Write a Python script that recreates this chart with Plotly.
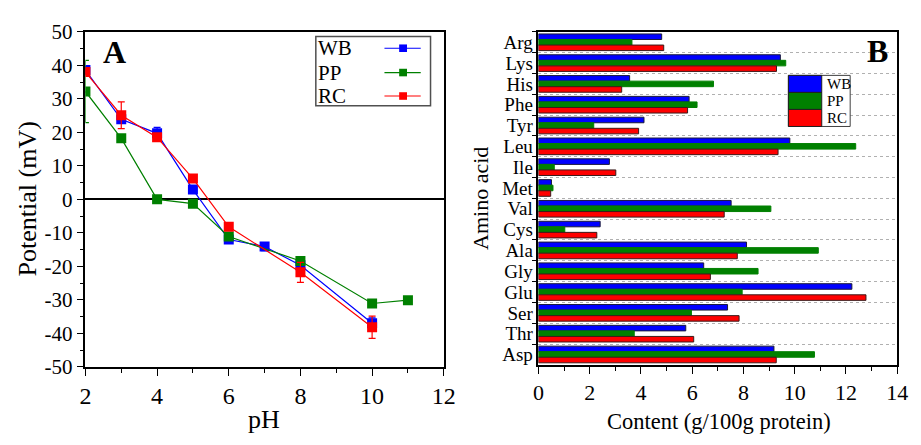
import plotly.graph_objects as go

# ---- Panel A: zeta potential vs pH ----
ph_wb = [2, 3, 4, 5, 6, 7, 8, 10]
zeta_wb = [38.6, 23.9, 19.7, 2.9, -12.0, -14.1, -19.7, -37.0]
err_wb = [1.0, 1.0, 1.8, 0.6, 0.8, 1.2, 1.5, 1.6]

ph_pp = [2, 3, 4, 5, 6, 8, 10, 11]
zeta_pp = [32.2, 18.2, 0.0, -1.3, -11.1, -18.4, -31.1, -30.1]
err_pp = [9.3, 0.5, 0.5, 0.5, 0.5, 0.6, 0.5, 0.5]

ph_rc = [2, 3, 4, 5, 6, 8, 10]
zeta_rc = [38.0, 25.1, 18.5, 6.2, -8.2, -21.8, -38.2]
err_rc = [0.8, 4.0, 0.8, 0.5, 0.6, 3.0, 3.3]

potential_ticks = [50, 40, 30, 20, 10, 0, -10, -20, -30, -40, -50]
potential_labels = ["50", "40", "30", "20", "10", "0",
                    "-10", "-20", "-30", "-40", "-50"]

# ---- Panel B: amino acid composition (g/100g protein) ----
amino_acids = ["Arg", "Lys", "His", "Phe", "Tyr", "Leu", "Ile", "Met",
               "Val", "Cys", "Ala", "Gly", "Glu", "Ser", "Thr", "Asp"]
content_wb = [4.81, 9.44, 3.56, 5.88, 4.12, 9.81, 2.77, 0.51,
              7.52, 2.41, 8.12, 6.45, 12.23, 7.38, 5.75, 9.19]
content_pp = [3.65, 9.65, 6.83, 6.19, 2.16, 12.38, 0.62, 0.57,
              9.07, 1.03, 10.92, 8.57, 7.95, 5.97, 3.74, 10.77]
content_rc = [4.89, 9.29, 3.25, 5.82, 3.91, 9.35, 3.02, 0.48,
              7.25, 2.28, 7.76, 6.71, 12.78, 7.83, 6.06, 9.28]

series_names = ["WB", "PP", "RC"]
colors = ["#0000FF", "#008000", "#FF0000"]

W, H = 921, 445
SERIF = "Liberation Serif"


def px(x):
    return x / W


def py(y):
    return 1 - y / H


fig = go.Figure()

for name, xs, ys, es, c in zip(series_names,
                               [ph_wb, ph_pp, ph_rc],
                               [zeta_wb, zeta_pp, zeta_rc],
                               [err_wb, err_pp, err_rc], colors):
    fig.add_trace(go.Scatter(
        x=xs, y=ys, mode="lines+markers", name=name,
        line=dict(color=c, width=1.2),
        marker=dict(symbol="square", size=10, color=c),
        error_y=dict(type="data", array=es, color=c, thickness=1.2, width=3.5),
        xaxis="x", yaxis="y", showlegend=False))

bar_outline = ["#1a1a3a", "#008000", "#3a1a1a"]
for name, vals, c, oc in zip(series_names,
                             [content_wb, content_pp, content_rc],
                             colors, bar_outline):
    fig.add_trace(go.Bar(
        x=vals, y=amino_acids, orientation="h", name=name,
        marker=dict(color=c, line=dict(color=oc, width=1)),
        xaxis="x2", yaxis="y2", showlegend=False))

axis_common = dict(showline=True, linecolor="black", linewidth=1.5,
                   mirror=True, ticks="outside", tickcolor="black",
                   tickwidth=1.2, showgrid=False, zeroline=False)

fig.update_layout(
    width=W, height=H,
    margin=dict(l=0, r=0, t=0, b=0),
    paper_bgcolor="white", plot_bgcolor="white",
    font=dict(family=SERIF, color="black"),
    barmode="group", bargap=0.2, bargroupgap=0,
    xaxis=dict(domain=[px(81), px(446.5)], range=[2, 12], dtick=2,
               ticklen=7, tickfont=dict(size=24, family=SERIF),
               minor=dict(dtick=1, ticklen=4, ticks="outside",
                          tickcolor="black"),
               anchor="y", **axis_common),
    yaxis=dict(domain=[py(375), py(21)], range=[-50, 50],
               tickmode="array", tickvals=potential_ticks,
               ticktext=potential_labels,
               ticklen=7, tickfont=dict(size=21, family=SERIF),
               minor=dict(dtick=5, tick0=0, ticklen=4, ticks="outside",
                          tickcolor="black"),
               anchor="x", **{**axis_common, "zeroline": True},
               zerolinecolor="black", zerolinewidth=1.5),
    xaxis2=dict(domain=[px(543), px(909)], range=[0, 14], dtick=2,
                ticklen=7, tickfont=dict(size=22, family=SERIF),
                minor=dict(dtick=1, ticklen=4, ticks="outside",
                           tickcolor="black"),
                anchor="y2", **axis_common),
    yaxis2=dict(domain=[py(373), py(21)], autorange="reversed",
                type="category", tickson="boundaries", ticklen=5, dtick=1,
                tickfont=dict(size=19, family=SERIF),
                anchor="x2",
                **{**axis_common, "showgrid": True},
                gridcolor="#b0b0b0", griddash="dot", gridwidth=1),
)

shapes = []
annotations = []

# axis titles and panel letters
annotations += [
    dict(text="Potential (mV)", x=px(22), y=py(197.5), textangle=-90,
         font=dict(size=26, family=SERIF)),
    dict(text="pH", x=px(263), y=py(431), font=dict(size=26, family=SERIF)),
    dict(text="<b>A</b>", x=px(111), y=py(42),
         font=dict(size=32, family=SERIF)),
    dict(text="Amino acid", x=px(484), y=py(197), textangle=-90,
         font=dict(size=22, family=SERIF)),
    dict(text="Content (g/100g protein)", x=px(727), y=py(433),
         font=dict(size=22.5, family=SERIF)),
    dict(text="<b>B</b>", x=px(889), y=py(41),
         font=dict(size=32, family=SERIF)),
]

# legend for panel A: names on the left, line+marker samples on the right
shapes.append(dict(type="rect", xref="paper", yref="paper",
                   x0=px(316), x1=px(433), y0=py(99), y1=py(26),
                   line=dict(color="#505050", width=1.5),
                   fillcolor="white", layer="above"))
for name, c, yc in zip(series_names, colors, [38.3, 64.0, 88.8]):
    annotations.append(dict(text=name, x=px(316), y=py(yc), xanchor="left",
                            font=dict(size=21, family=SERIF)))
    shapes.append(dict(type="line", xref="paper", yref="paper",
                       x0=px(386), x1=px(423), y0=py(yc), y1=py(yc),
                       line=dict(color=c, width=1.2), layer="above"))
    shapes.append(dict(type="rect", xref="paper", yref="paper",
                       x0=px(401), x1=px(409), y0=py(yc + 4), y1=py(yc - 4),
                       line=dict(width=0), fillcolor=c, layer="above"))

# legend for panel B: colour swatches with labels
shapes.append(dict(type="rect", xref="paper", yref="paper",
                   x0=px(798), x1=px(861), y0=py(121), y1=py(67),
                   line=dict(color="#404040", width=1),
                   fillcolor="white", layer="above"))
for i, (name, c) in enumerate(zip(series_names, colors)):
    top = 67 + i * 18
    shapes.append(dict(type="rect", xref="paper", yref="paper",
                       x0=px(798), x1=px(832), y0=py(top + 18), y1=py(top),
                       line=dict(color="#202020", width=1), fillcolor=c,
                       layer="above"))
    annotations.append(dict(text=name, x=px(835), y=py(top + 9),
                            xanchor="left",
                            font=dict(size=15, family=SERIF)))

for a in annotations:
    a.setdefault("xref", "paper")
    a.setdefault("yref", "paper")
    a.setdefault("showarrow", False)
    a.setdefault("xanchor", "center")
    a.setdefault("yanchor", "middle")

fig.update_layout(shapes=shapes, annotations=annotations)

fig.write_html("out.html")
